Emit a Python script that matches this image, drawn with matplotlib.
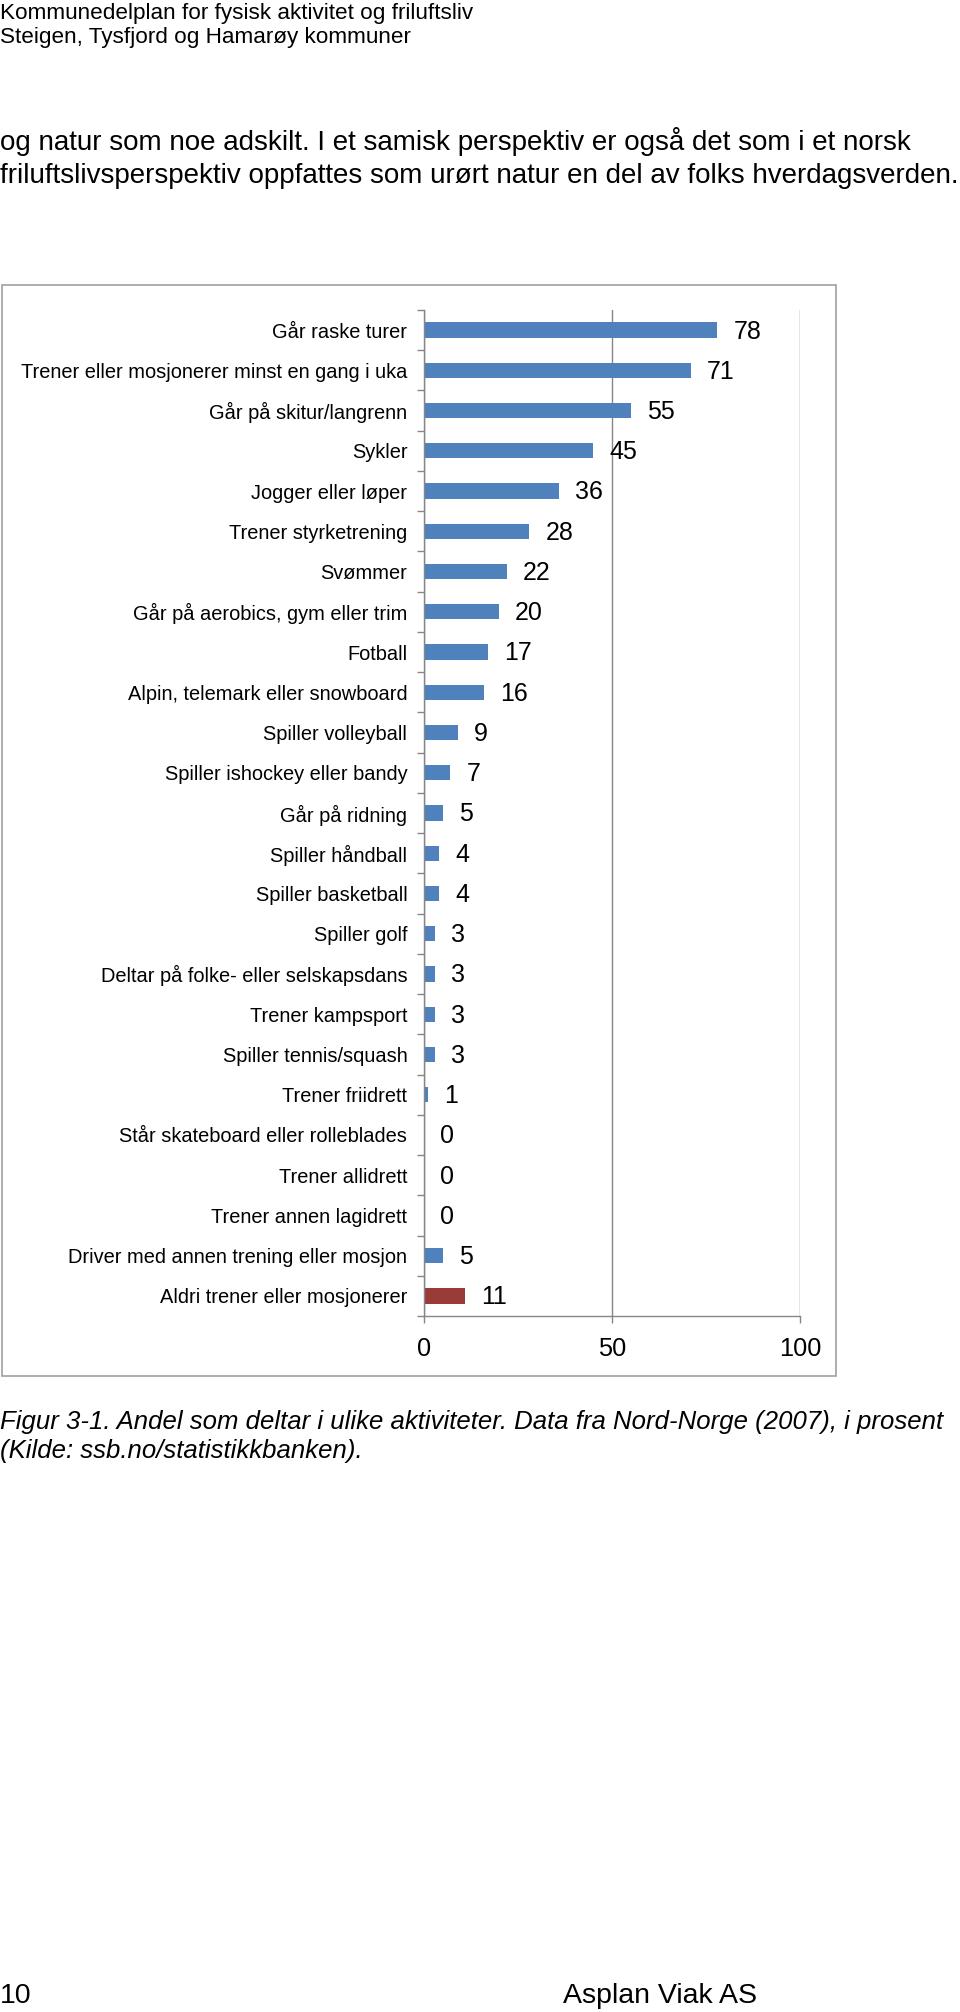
import matplotlib
matplotlib.use('Agg')
import matplotlib.pyplot as plt
from matplotlib.patches import Rectangle

plt.rcParams['font.family'] = ['Liberation Sans', 'DejaVu Sans']

# Data
categories = [
    'Går raske turer',
    'Trener eller mosjonerer minst en gang i uka',
    'Går på skitur/langrenn',
    'Sykler',
    'Jogger eller løper',
    'Trener styrketrening',
    'Svømmer',
    'Går på aerobics, gym eller trim',
    'Fotball',
    'Alpin, telemark eller snowboard',
    'Spiller volleyball',
    'Spiller ishockey eller bandy',
    'Går på ridning',
    'Spiller håndball',
    'Spiller basketball',
    'Spiller golf',
    'Deltar på folke- eller selskapsdans',
    'Trener kampsport',
    'Spiller tennis/squash',
    'Trener friidrett',
    'Står skateboard eller rolleblades',
    'Trener allidrett',
    'Trener annen lagidrett',
    'Driver med annen trening eller mosjon',
    'Aldri trener eller mosjonerer',
]
values = [78, 71, 55, 45, 36, 28, 22, 20, 17, 16, 9, 7, 5, 4, 4, 3, 3, 3, 3, 1, 0, 0, 0, 5, 11]
x_ticks = [0, 50, 100]

blue = '#4F81BD'
red = '#9A3B38'
gray = '#868686'

W, H = 960, 2012
fig = plt.figure(figsize=(W / 100, H / 100), dpi=100)

# page text
fig.text(0 / W, 1 - 14 / H, 'Kommunedelplan for fysisk aktivitet og friluftsliv',
         fontsize=16.2, va='center', ha='left')
fig.text(0 / W, 1 - 38 / H, 'Steigen, Tysfjord og Hamarøy kommuner',
         fontsize=16.2, va='center', ha='left')
fig.text(0 / W, 1 - 141 / H,
         'og natur som noe adskilt. I et samisk perspektiv er også det som i et norsk',
         fontsize=20, va='center', ha='left')
fig.text(0 / W, 1 - 176 / H,
         'friluftslivsperspektiv oppfattes som urørt natur en del av folks hverdagsverden.',
         fontsize=20, va='center', ha='left')
fig.text(0 / W, 1 - 1422 / H,
         'Figur 3-1. Andel som deltar i ulike aktiviteter. Data fra Nord-Norge (2007), i prosent',
         fontsize=18.5, style='italic', va='center', ha='left')
fig.text(0 / W, 1 - 1451 / H, '(Kilde: ssb.no/statistikkbanken).',
         fontsize=18.5, style='italic', va='center', ha='left')
fig.text(0 / W, 1 - 1996 / H, '10', fontsize=20.5, va='center', ha='left')
fig.text(757 / W, 1 - 1996 / H, 'Asplan Viak AS', fontsize=20.5, va='center', ha='right')

# chart frame
fig.add_artist(Rectangle((2 / W, 1 - 1376 / H), 834 / W, 1091 / H,
                         transform=fig.transFigure, fill=False,
                         edgecolor='#A0A0A0', linewidth=1.2))

ax = fig.add_axes([424 / W, 1 - 1316 / H, 376 / W, 1006 / H])

pos = list(range(len(categories)))
colors = [blue] * (len(values) - 1) + [red]
ax.barh(pos, values, height=0.38, color=colors)

for p, v in zip(pos, values):
    ax.annotate(str(v), xy=(v, p), xytext=(11.5, -1), textcoords='offset points',
                ha='left', va='center', fontsize=18)

ax.set_xlim(0, 100)
ax.set_ylim(len(categories) - 0.5, -0.5)
ax.set_xticks(x_ticks)
ax.set_xticklabels([str(t) for t in x_ticks], fontsize=18.3)
ax.set_yticks(pos)
ax.set_yticklabels(categories, fontsize=14.4)
ax.set_yticks([p - 0.5 for p in pos] + [len(pos) - 0.5], minor=True)
ax.tick_params(axis='y', which='major', length=0, pad=12)
ax.tick_params(axis='y', which='minor', length=5, color=gray, width=1)
ax.tick_params(axis='x', length=5, color=gray, width=1, pad=10)

ax.xaxis.grid(True, color=gray, linewidth=1)
ax.set_axisbelow(True)
for s in ['top', 'right']:
    ax.spines[s].set_visible(False)
for s in ['left', 'bottom']:
    ax.spines[s].set_color(gray)
    ax.spines[s].set_linewidth(1)

fig.savefig('out.png', dpi=100)
